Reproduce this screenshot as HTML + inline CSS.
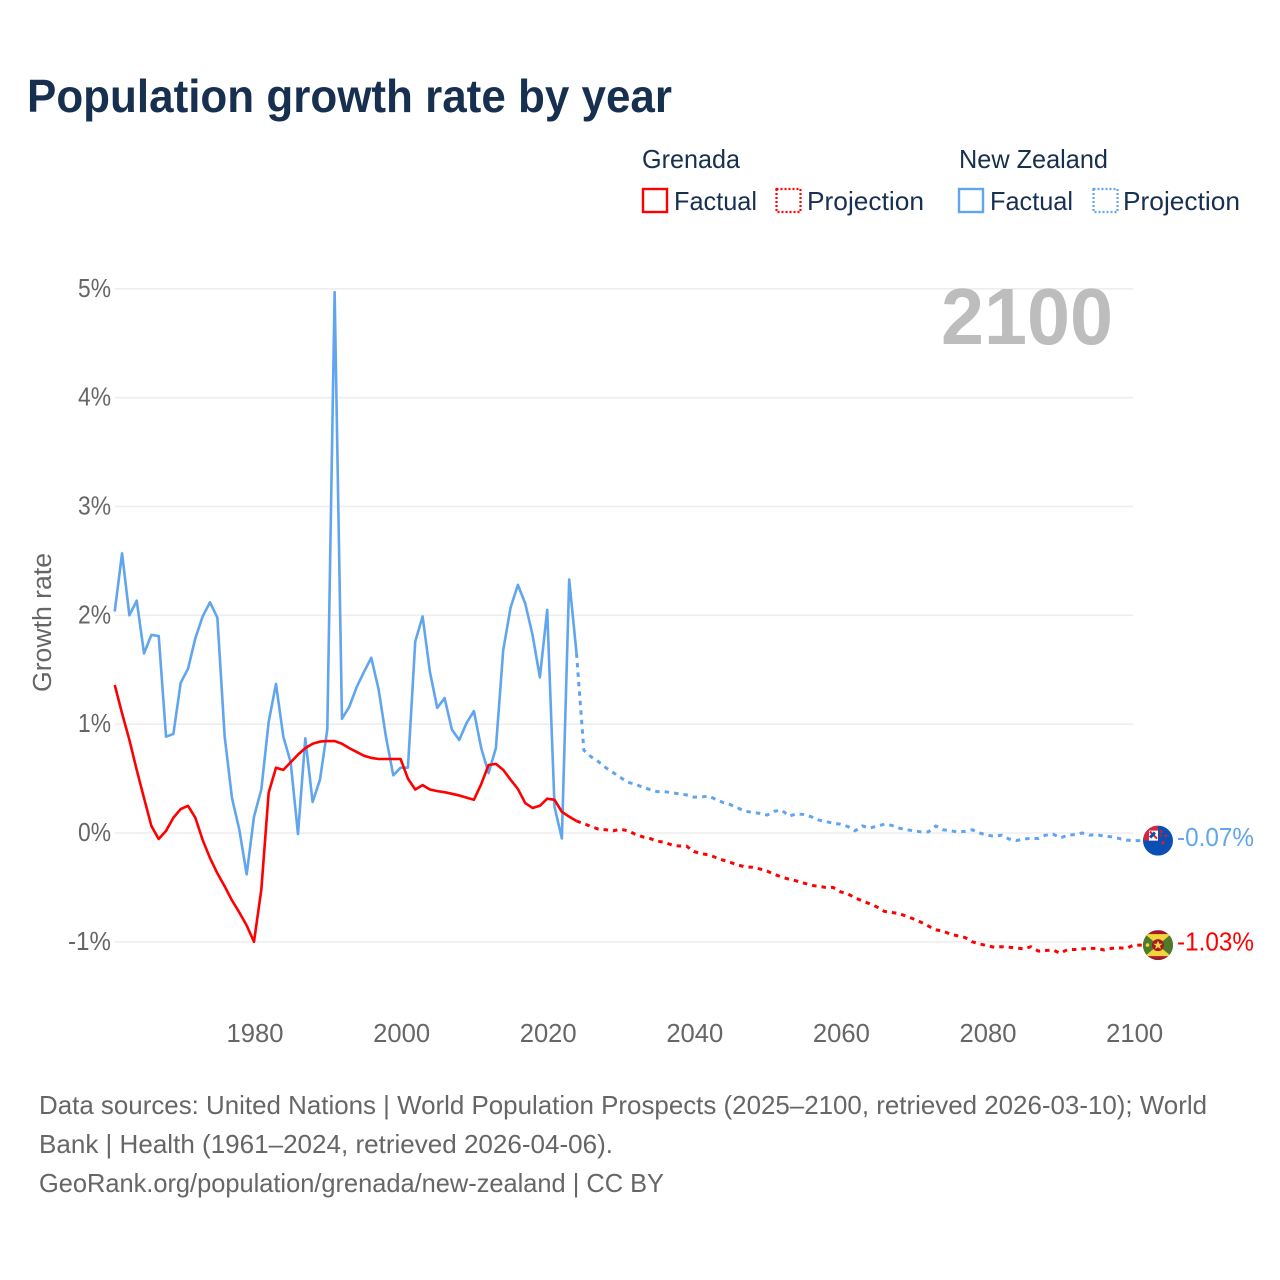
<!DOCTYPE html>
<html lang="en">
<head>
<meta charset="utf-8">
<title>Population growth rate by year</title>
<style>
html,body{margin:0;padding:0;background:#fff}
svg{display:block}
text{font-family:"Liberation Sans",sans-serif}
</style>
</head>
<body>
<svg id="chart" xmlns="http://www.w3.org/2000/svg" width="1280" height="1280" viewBox="0 0 1280 1280">
  <defs>
    <clipPath id="flag-clip"><circle cx="0" cy="0" r="15"/></clipPath>
  </defs>
  <rect x="0" y="0" width="1280" height="1280" fill="#ffffff"/>
  <text x="27" y="112" font-size="46" font-weight="700" fill="#18304f" textLength="645" lengthAdjust="spacingAndGlyphs">Population growth rate by year</text>

  <g font-size="26" fill="#18304f">
    <text x="642" y="168" textLength="98" lengthAdjust="spacingAndGlyphs">Grenada</text>
    <text x="959" y="168" textLength="149" lengthAdjust="spacingAndGlyphs">New Zealand</text>
    <rect x="643" y="189" width="24" height="23" fill="none" stroke="#ff0000" stroke-width="2.4"/>
    <text x="674" y="210" textLength="83" lengthAdjust="spacingAndGlyphs">Factual</text>
    <rect x="776.5" y="189" width="24" height="23" fill="none" stroke="#ff0000" stroke-width="2.2" stroke-dasharray="2 2"/>
    <text x="807" y="210" textLength="117" lengthAdjust="spacingAndGlyphs">Projection</text>
    <rect x="959" y="189" width="24" height="23" fill="none" stroke="#60a5ee" stroke-width="2.4"/>
    <text x="990" y="210" textLength="83" lengthAdjust="spacingAndGlyphs">Factual</text>
    <rect x="1093.5" y="189" width="24" height="23" fill="none" stroke="#60a5ee" stroke-width="2.2" stroke-dasharray="2 2"/>
    <text x="1123" y="210" textLength="117" lengthAdjust="spacingAndGlyphs">Projection</text>
  </g>

  <g id="grid"></g>
  <g id="y-ticks"></g>
  <g id="x-ticks"></g>
  <text transform="translate(51,692) rotate(-90)" x="0" y="0" font-size="25.5" fill="#666666" textLength="139" lengthAdjust="spacingAndGlyphs">Growth rate</text>
  <text x="941" y="344" font-size="80" font-weight="700" fill="#bdbdbd" textLength="172" lengthAdjust="spacingAndGlyphs">2100</text>

  <g id="series"></g>

  <g id="flag-nz">
    <g clip-path="url(#flag-clip)">
      <rect x="-15" y="-15" width="30" height="30" fill="#0a50b4"/>
      <rect x="-14" y="-15" width="14" height="15" fill="#d8243c"/>
      <rect x="-9" y="-10" width="9" height="10" fill="#ffffff"/>
      <path d="M-8 -9 L-1 -2" stroke="#d8243c" stroke-width="2"/>
      <path d="M-8 -3 L-3 -8" stroke="#0a50b4" stroke-width="3"/>
      <circle cx="3" cy="-9" r="1.6" fill="#c8202f"/>
      <circle cx="8" cy="-5" r="1.4" fill="#c8202f"/>
      <circle cx="3" cy="-5" r="1.2" fill="#c8202f"/>
      <circle cx="5" cy="2" r="1.8" fill="#c8202f"/>
    </g>
  </g>
  <g id="flag-gd">
    <g clip-path="url(#flag-clip)">
      <rect x="-15" y="-15" width="30" height="30" fill="#a31a2a"/>
      <rect x="-15" y="-11" width="30" height="22" fill="#4e7a2e"/>
      <path d="M-13 -11 L13 -11 L0 0 Z" fill="#f5d33a"/>
      <path d="M-13 11 L13 11 L0 0 Z" fill="#f5d33a"/>
      <circle cx="0" cy="0" r="6" fill="#a31a2a"/>
      <path d="M0 -4.5 L1.3 -1.4 L4.6 -1.4 L2 .7 L2.9 4 L0 2.1 L-2.9 4 L-2 .7 L-4.6 -1.4 L-1.3 -1.4 Z" fill="#f5d33a"/>
      <circle cx="-10.5" cy="0" r="1.8" fill="#f5d33a"/>
    </g>
  </g>
  <text id="end-label-nz" x="1177" font-size="26" fill="#60a5ee" textLength="77" lengthAdjust="spacingAndGlyphs"></text>
  <text id="end-label-gd" x="1177" font-size="26" fill="#ff0000" textLength="77" lengthAdjust="spacingAndGlyphs"></text>

  <g font-size="26" fill="#666666">
    <text x="39" y="1114" textLength="1168" lengthAdjust="spacingAndGlyphs">Data sources: United Nations | World Population Prospects (2025–2100, retrieved 2026-03-10); World</text>
    <text x="39" y="1153" textLength="574" lengthAdjust="spacingAndGlyphs">Bank | Health (1961–2024, retrieved 2026-04-06).</text>
    <text x="39" y="1192" textLength="625" lengthAdjust="spacingAndGlyphs">GeoRank.org/population/grenada/new-zealand | CC BY</text>
  </g>
</svg>
<script>
var firstYear = 1961;
var lastFactualYear = 2024;
var yTicks = [5, 4, 3, 2, 1, 0, -1];
var xTicks = [1980, 2000, 2020, 2040, 2060, 2080, 2100];

var grenadaFactual = [1.36,1.10,0.855,0.58,0.32,0.065,-0.055,0.02,0.14,0.22,0.25,0.14,-0.065,-0.23,-0.37,-0.49,-0.62,-0.73,-0.85,-1.0,-0.52,0.37,0.6,0.58,0.65,0.72,0.78,0.82,0.84,0.845,0.845,0.82,0.78,0.745,0.71,0.69,0.68,0.68,0.68,0.68,0.5,0.4,0.44,0.4,0.385,0.375,0.36,0.345,0.325,0.305,0.45,0.625,0.635,0.58,0.49,0.405,0.275,0.23,0.25,0.315,0.305,0.195,0.15,0.11];
var grenadaProjection = [0.085,0.06,0.035,0.03,0.02,0.035,0.02,-0.01,-0.035,-0.05,-0.075,-0.085,-0.11,-0.12,-0.12,-0.17,-0.19,-0.2,-0.225,-0.25,-0.27,-0.295,-0.31,-0.315,-0.33,-0.35,-0.38,-0.405,-0.425,-0.44,-0.46,-0.48,-0.49,-0.5,-0.5,-0.54,-0.56,-0.595,-0.625,-0.65,-0.68,-0.72,-0.73,-0.74,-0.765,-0.79,-0.82,-0.855,-0.89,-0.9,-0.93,-0.945,-0.96,-1.0,-1.02,-1.035,-1.05,-1.045,-1.05,-1.055,-1.065,-1.045,-1.085,-1.08,-1.075,-1.105,-1.07,-1.07,-1.065,-1.06,-1.06,-1.075,-1.06,-1.055,-1.06,-1.03];
var newZealandFactual = [2.035,2.57,2.0,2.135,1.65,1.82,1.81,0.885,0.91,1.38,1.51,1.79,1.99,2.12,1.98,0.885,0.32,0.03,-0.38,0.15,0.40,1.02,1.37,0.885,0.65,-0.01,0.87,0.285,0.49,0.95,4.97,1.05,1.16,1.34,1.48,1.61,1.32,0.885,0.53,0.6,0.6,1.76,1.99,1.48,1.15,1.24,0.95,0.855,1.01,1.12,0.78,0.55,0.78,1.68,2.07,2.28,2.11,1.82,1.43,2.05,0.24,-0.05,2.33,1.65];
var newZealandProjection = [0.76,0.70,0.655,0.6,0.555,0.51,0.465,0.45,0.42,0.40,0.38,0.38,0.37,0.36,0.35,0.33,0.33,0.34,0.31,0.28,0.26,0.23,0.2,0.19,0.18,0.165,0.2,0.21,0.155,0.175,0.17,0.15,0.12,0.105,0.09,0.08,0.06,0.02,0.065,0.045,0.065,0.08,0.07,0.045,0.03,0.02,0.01,0.01,0.065,0.03,0.02,0.01,0.015,0.03,0,-0.02,-0.03,-0.02,-0.055,-0.07,-0.055,-0.05,-0.05,-0.02,-0.01,-0.045,-0.02,-0.015,0,-0.02,-0.015,-0.03,-0.035,-0.05,-0.065,-0.07];

var SVGNS = 'http://www.w3.org/2000/svg';
function xScale(year) { return 254 + (year - 1980) * 7.33; }
function yScale(pct) { return 833 - pct * 108.83; }
function node(tag, parent) {
  var el = document.createElementNS(SVGNS, tag);
  document.getElementById(parent).appendChild(el);
  return el;
}

yTicks.forEach(function (t) {
  var line = node('line', 'grid');
  
  
  line.setAttribute('x1', xScale(firstYear));
  line.setAttribute('x2', 1133);
  line.setAttribute('y1', yScale(t));
  line.setAttribute('y2', yScale(t));
  line.setAttribute('stroke', '#eeeeee');
  line.setAttribute('stroke-width', '1.6');

  var label = node('text', 'y-ticks');
  
  
  label.setAttribute('x', 111);
  label.setAttribute('y', yScale(t) + 8);
  label.setAttribute('text-anchor', 'end');
  label.setAttribute('font-size', '25.5');
  label.setAttribute('fill', '#666666');
  label.setAttribute('textLength', t < 0 ? 43 : 33);
  label.setAttribute('lengthAdjust', 'spacingAndGlyphs');
  label.textContent = t + '%';
});

xTicks.forEach(function (t) {
  var label = node('text', 'x-ticks');
  
  
  label.setAttribute('x', xScale(t) + 1);
  label.setAttribute('y', 1042);
  label.setAttribute('text-anchor', 'middle');
  label.setAttribute('font-size', '25.6');
  label.setAttribute('fill', '#666666');
  label.textContent = t;
});

function drawLine(values, startYear, color, dashed, name, extend) {
  var pts = values.map(function (v, i) {
    return xScale(startYear + i).toFixed(2) + ',' + yScale(v).toFixed(2);
  });
  if (extend) {
    pts.push((xScale(startYear + values.length - 1) + 9).toFixed(2) + ',' + yScale(values[values.length - 1]).toFixed(2));
  }
  var line = node('polyline', 'series');
  
  
  line.setAttribute('points', pts.join(' '));
  line.setAttribute('fill', 'none');
  line.setAttribute('stroke', color);
  line.setAttribute('stroke-width', dashed ? '3' : '2.6');
  line.setAttribute('stroke-linejoin', 'round');
  if (dashed) line.setAttribute('stroke-dasharray', '4.5 5');
}

var grenadaColor = '#ff0000';
var newZealandColor = '#60a5ee';
drawLine(newZealandFactual, firstYear, newZealandColor, false, 'new-zealand-factual-line', false);
drawLine([newZealandFactual[newZealandFactual.length - 1]].concat(newZealandProjection), lastFactualYear, newZealandColor, true, 'new-zealand-projection-line', true);
drawLine(grenadaFactual, firstYear, grenadaColor, false, 'grenada-factual-line', false);
drawLine([grenadaFactual[grenadaFactual.length - 1]].concat(grenadaProjection), lastFactualYear, grenadaColor, true, 'grenada-projection-line', true);

function placeEnd(flagId, labelId, values) {
  var v = values[values.length - 1];
  var y = yScale(v);
  document.getElementById(flagId).setAttribute('transform', 'translate(1158,' + y.toFixed(2) + ')');
  var label = document.getElementById(labelId);
  label.setAttribute('y', (y + 5.5).toFixed(2));
  label.textContent = v.toFixed(2) + '%';
}
placeEnd('flag-nz', 'end-label-nz', newZealandProjection);
placeEnd('flag-gd', 'end-label-gd', grenadaProjection);
</script>
</body>
</html>
